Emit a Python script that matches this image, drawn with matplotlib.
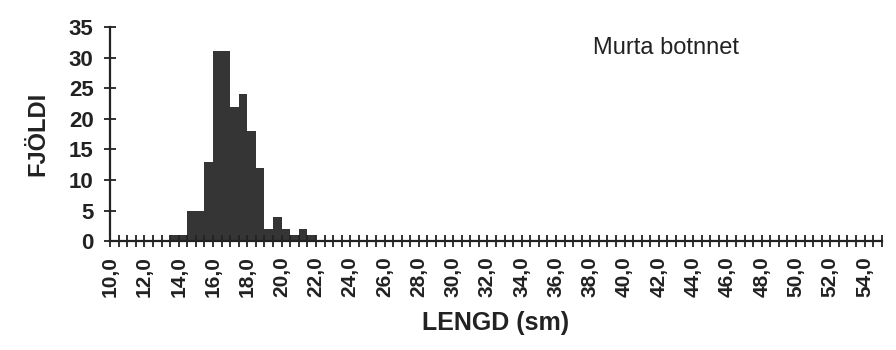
import numpy as np
import matplotlib
matplotlib.use("Agg")
import matplotlib.pyplot as plt

# Lengdardreifing: neðri mörk hvers 0,5 sm bils og fjöldi fiska
lengd = [13.5, 14.0, 14.5, 15.0, 15.5, 16.0, 16.5, 17.0, 17.5,
         18.0, 18.5, 19.0, 19.5, 20.0, 20.5, 21.0, 21.5]
fjoldi = [1, 1, 5, 5, 13, 31, 31, 22, 24,
          18, 12, 2, 4, 2, 1, 2, 1]
bil = 0.5

x_min, x_max = 10.0, 55.0
tick_labels = [f"{v:.1f}".replace(".", ",") for v in np.arange(10.0, 54.1, 2.0)]
titill = "Murta botnnet"

plt.rcParams['font.family'] = ['Liberation Sans', 'DejaVu Sans']

fig = plt.figure(figsize=(8.96, 3.5), dpi=100)
ax = fig.add_axes([0.123, 0.311, 0.861, 0.612])

ax.bar(lengd, fjoldi, width=bil, align='edge', color='#353535', edgecolor='none')

ax.set_xlim(x_min, x_max)
ax.set_ylim(0, 35)

for s in ['top', 'right']:
    ax.spines[s].set_visible(False)
for s in ['left', 'bottom']:
    ax.spines[s].set_linewidth(1.6)
    ax.spines[s].set_color('#222222')

ax.set_xticks(np.arange(10.0, 54.1, 2.0))
ax.set_xticklabels(tick_labels, rotation=90, fontsize=15, fontweight='bold',
                   color='#222222')
ax.set_xticks(np.arange(10.0, 55.01, 0.5), minor=True)
ax.tick_params(axis='x', which='both', direction='inout', length=8, width=1.3,
               color='#222222', pad=7)

ax.set_yticks(np.arange(0, 36, 5))
ax.set_yticklabels([str(v) for v in range(0, 36, 5)], fontsize=16,
                   fontweight='bold', color='#222222')
ax.tick_params(axis='y', direction='inout', length=8, width=1.3,
               color='#222222', pad=8)

ax.set_xlabel("LENGD (sm)", fontsize=18, fontweight='bold', color='#222222',
              labelpad=10)
ax.set_ylabel("FJÖLDI", fontsize=17, fontweight='bold', color='#222222',
              labelpad=14)

ax.text(0.626, 0.90, titill, transform=ax.transAxes, fontsize=17,
        color='#222222', ha='left', va='center')

fig.savefig("out.png", dpi=100)
